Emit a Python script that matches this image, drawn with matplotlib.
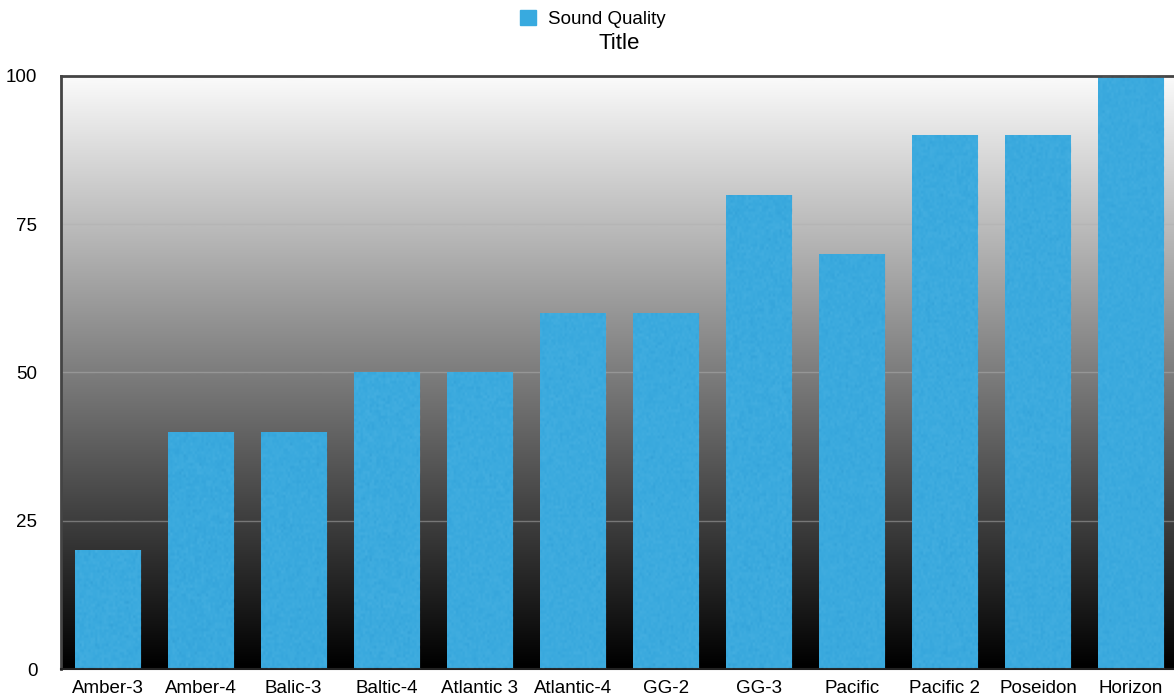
import numpy as np
import matplotlib.pyplot as plt
from matplotlib.patches import Rectangle

models = ["Amber-3", "Amber-4", "Balic-3", "Baltic-4", "Atlantic 3", "Atlantic-4",
          "GG-2", "GG-3", "Pacific", "Pacific 2", "Poseidon", "Horizon"]
sound_quality = [20, 40, 40, 50, 50, 60, 60, 80, 70, 90, 90, 100]
y_ticks = [0, 25, 50, 75, 100]

plt.rcParams["font.family"] = ["Liberation Sans", "DejaVu Sans"]
bar_color = "#38aadf"

fig = plt.figure(figsize=(11.74, 6.98), dpi=100)
ax = fig.add_axes([0.052, 0.0415, 0.951, 0.8497])

x = np.arange(len(models))
ax.set_xlim(-0.5, len(models) - 0.5)
ax.set_ylim(0, 100)

# white-to-black gradient behind the bars
grad = np.linspace(0, 1, 256).reshape(-1, 1)
ax.imshow(grad, cmap="gray", aspect="auto", extent=(-0.5, len(models) - 0.5, 0, 100),
          origin="lower", vmin=0, vmax=1.02, zorder=0)

for t in y_ticks[1:-1]:
    ax.axhline(t, color="#b0b0b0", alpha=0.5, lw=1, zorder=1)

bars = ax.bar(x, sound_quality, width=0.71, color=bar_color, zorder=2, label="Sound Quality")

# light speckle texture on the bars
rng = np.random.default_rng(3)
for b in bars:
    noise = rng.normal(0, 1, (int(b.get_height() * 2) + 2, 30))
    im = ax.imshow(noise, cmap="Blues_r", alpha=0.07, aspect="auto",
                   extent=(b.get_x(), b.get_x() + b.get_width(), 0, b.get_height()),
                   zorder=3)
    im.set_clip_path(b)

ax.set_xticks(x)
ax.set_xticklabels(models, fontsize=13.5)
ax.set_yticks(y_ticks)
ax.set_yticklabels([str(t) for t in y_ticks], fontsize=13.5)
ax.tick_params(length=0, pad=8)
ax.tick_params(axis="y", pad=17)

for s in ["left", "top"]:
    ax.spines[s].set_color("#444444")
    ax.spines[s].set_linewidth(2)
ax.spines["bottom"].set_color("#222222")
ax.spines["bottom"].set_linewidth(1.5)
ax.spines["right"].set_visible(False)

fig.legend(handles=[Rectangle((0, 0), 1, 1, color=bar_color)], labels=["Sound Quality"],
           loc="upper center", bbox_to_anchor=(0.505, 1.01), frameon=False,
           fontsize=13.5, handlelength=0.85, handleheight=0.85, handletextpad=0.65)
fig.text(0.527, 0.938, "Title", ha="center", va="center", fontsize=16)

fig.savefig("out.png", dpi=100)
